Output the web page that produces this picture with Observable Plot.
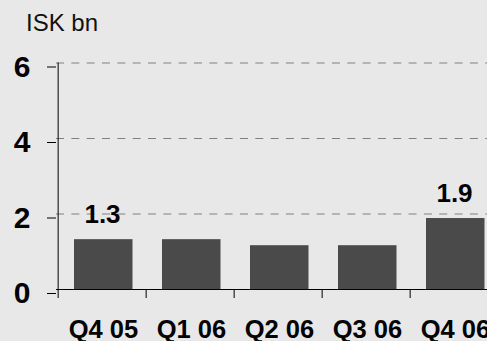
<!DOCTYPE html>
<html><head><meta charset="utf-8">
<script src="https://cdn.jsdelivr.net/npm/d3@7"></script>
<script src="https://cdn.jsdelivr.net/npm/@observablehq/plot@0.6"></script>
<style>
html,body{margin:0;padding:0;background:#e8e8e8;}
#wrap{position:relative;width:487px;height:341px;overflow:hidden;font-family:"Liberation Sans",Arial,sans-serif;}
#unit{position:absolute;left:26px;top:11px;font-size:24px;line-height:24px;color:#111;z-index:2;}
</style></head><body>
<div id="wrap"><div id="unit">ISK bn</div></div>
<script>
const quarters = ["Q4 05", "Q1 06", "Q2 06", "Q3 06", "Q4 06"];
const values = [1.32, 1.32, 1.16, 1.16, 1.88];
const labelQuarters = ["Q4 05", "Q4 06"];
const labelTexts = ["1.3", "1.9"];
const yTicks = [0, 2, 4, 6];
const gridValues = [2, 4, 6];

const bars = quarters.map((q, i) => ({q, v: values[i]}));
const labelled = labelQuarters.map((q, i) => ({q, v: values[quarters.indexOf(q)], t: labelTexts[i]}));
const half = (499.5 - 56) / quarters.length / 2;

const chart = Plot.plot({
  width: 487, height: 341,
  marginLeft: 56, marginRight: 0, marginTop: 62.5, marginBottom: 52,
  style: {background: "transparent", fontFamily: "'Liberation Sans', Arial, sans-serif", color: "#000"},
  x: {domain: quarters, range: [56, 499.5], padding: 0, axis: null},
  y: {domain: [0, 6], axis: null},
  marks: [
    Plot.ruleY(gridValues, {y: d => d, stroke: "#808080", strokeDasharray: "8,7.33"}),
    Plot.barY(bars, {x: "q", y: "v", fill: "#4a4a4a", insetLeft: 16, insetRight: 13.5}),
    Plot.ruleY([0], {y: d => d, stroke: "#000"}),
    Plot.ruleX(quarters, {x: d => d, dx: -half, y1: 0, y2: 0, insetBottom: -9, stroke: "#000"}),
    Plot.ruleX([quarters[0]], {x: d => d, dx: -half, y1: 0, y2: 6, stroke: "#000"}),
    Plot.axisY({ticks: yTicks, label: null, tickSize: 9, tickPadding: 17, fontSize: 30, fontWeight: "bold", dy: 4, tickFormat: d => d, stroke: "#000"}),
    Plot.axisX({label: null, tickSize: 0, tickPadding: 30, fontSize: 25.5, fontWeight: "bold", dx: 1}),
    Plot.text(labelled, {x: "q", y: "v", text: "t", lineAnchor: "bottom", dy: -17, fontSize: 26, fontWeight: "bold", fill: "#000"})
  ]
});
document.getElementById("wrap").appendChild(chart);
</script>
</body></html>
